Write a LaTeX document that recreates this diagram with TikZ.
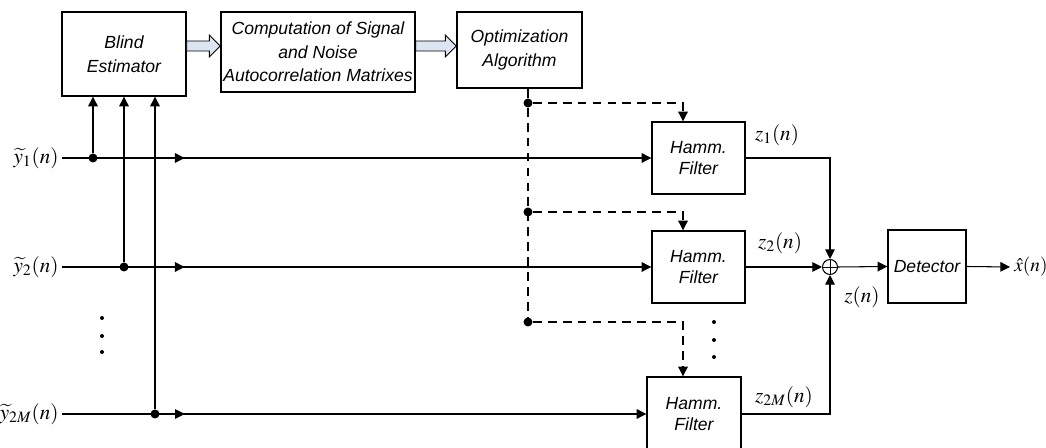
\documentclass[tikz,border=0pt]{standalone}
\usepackage{mathptmx}
\usepackage{fontspec}
\setmainfont{Liberation Serif}
\setsansfont{Liberation Sans}
\usetikzlibrary{arrows.meta,calc,decorations.markings}
\definecolor{arrfill}{HTML}{DCE6F2}
\begin{document}
\begin{tikzpicture}[x=0.02cm,y=-0.02cm,
  box/.style={draw,line width=0.8pt,font=\sffamily\itshape\fontsize{10}{13.5}\selectfont,align=center,inner sep=0pt},
  hbox/.style={box,font=\sffamily\itshape\fontsize{10}{12}\selectfont,minimum width=1.86cm,minimum height=1.44cm},
  conn/.style={line width=0.6pt},
  tip/.style={-{Triangle[length=5.5pt,width=5.5pt]}},
  ctrl/.style={conn,dash pattern=on 5pt off 3.5pt},
  jdot/.style={circle,fill,inner sep=0pt,minimum size=0.18cm},
  sdot/.style={circle,fill,inner sep=0pt,minimum size=0.08cm},
  lbl/.style={font=\fontsize{12}{14}\selectfont,inner sep=0pt},
  dblarrow/.style={draw,line width=0.5pt,fill=arrfill},
  midtip/.style={postaction={decorate},decoration={markings,mark=at position #1 with {\arrow{Triangle[length=5.5pt,width=5.5pt]}}}}
]
\useasboundingbox (0,0) rectangle (1046,448);

% top boxes
\node[box,minimum width=2.48cm,minimum height=1.68cm] (be) at (124,54) {Blind\\Estimator};
\node[box,minimum width=3.88cm,minimum height=1.6cm] (cp) at (318,52) {Computation of Signal\\and Noise\\Autocorrelation Matrixes};
\node[box,minimum width=2.5cm,minimum height=1.52cm] (oa) at (519.5,50) {Optimization\\Algorithm};

% block arrows
\coordinate (a1s) at (be.east |- 0,46);
\coordinate (a1e) at (cp.west |- 0,46);
\coordinate (a2s) at (cp.east |- 0,46);
\coordinate (a2e) at (oa.west |- 0,46);
\foreach \s/\e in {a1s/a1e,a2s/a2e}{
  \draw[dblarrow] ($(\s)+(0,-5)$) -- ($(\e)+(-11,-5)$) -- ($(\e)+(-11,-11)$) -- (\e)
    -- ($(\e)+(-11,11)$) -- ($(\e)+(-11,5)$) -- ($(\s)+(0,5)$) -- cycle;
}

% filters, summer, detector
\node[hbox] (h1) at (698.5,158) {Hamm.\\Filter};
\node[hbox] (h2) at (698.5,267) {Hamm.\\Filter};
\node[hbox,minimum width=1.88cm,minimum height=1.48cm] (h3) at (694,414) {Hamm.\\Filter};
\node[circle,draw,line width=0.6pt,minimum size=0.3cm,inner sep=0pt] (sum) at (830,267) {};
\draw[line width=0.5pt] (sum.north) -- (sum.south) (sum.west) -- (sum.east);
\node[box,minimum width=1.56cm,minimum height=1.46cm] (det) at (927,266.5) {Detector};

% inputs
\coordinate (i1) at (62,158);
\coordinate (i2) at (62,267);
\coordinate (i3) at (62,414);
\node[lbl,anchor=east] (l1) at (59,158) {$\widetilde{y}_1(n)$};
\node[lbl,anchor=east] (l2) at (59,267) {$\widetilde{y}_2(n)$};
\node[lbl,anchor=east] (l3) at (59,414) {$\widetilde{y}_{2M}(n)$};
\draw[conn,tip,midtip=0.208] (i1) -- (h1.west);
\draw[conn,tip,midtip=0.208] (i2) -- (h2.west);
\draw[conn,tip,midtip=0.21] (i3) -- (h3.west);

% junctions to blind estimator
\node[jdot] (j1) at (93,158) {};
\node[jdot] (j2) at (124,267) {};
\node[jdot] (j3) at (155,414) {};
\draw[conn,tip] (j1) -- (j1 |- be.south);
\draw[conn,tip] (j2) -- (j2 |- be.south);
\draw[conn,tip] (j3) -- (j3 |- be.south);

% vertical ellipsis dots
\node[sdot] (v1) at (102,318) {};
\node[sdot] (v2) at (102,336) {};
\node[sdot] (v3) at (102,352) {};
\node[sdot] (w1) at (714,322) {};
\node[sdot] (w2) at (714,340) {};
\node[sdot] (w3) at (714,357) {};

% control lines
\node[jdot] (d1) at (528,103) {};
\node[jdot] (d2) at (528,212) {};
\node[jdot] (d3) at (528,322) {};
\draw[conn] (d1) -- (d1 |- oa.south);
\draw[ctrl] (d1) -- (d3);
\coordinate (k1) at (683,103);
\coordinate (k2) at (683,212);
\coordinate (k3) at (683,322);
\draw[ctrl,tip] (d1) -- (k1) -- (k1 |- h1.north);
\draw[ctrl,tip] (d2) -- (k2) -- (k2 |- h2.north);
\draw[ctrl,tip] (d3) -- (k3) -- (k3 |- h3.north);

% outputs
\draw[conn,tip] (h1.east) -| (sum.north);
\draw[conn,tip] (h2.east) -- (sum.west);
\draw[conn,tip] (h3.east) -| (sum.south);
\draw[conn,tip] (sum.east) -- (det.west);
\coordinate (out) at (1010,267);
\draw[conn,tip] (det.east) -- (out);

% labels
\node[lbl] (zl1) at (777,135) {$z_1(n)$};
\node[lbl] (zl2) at (780,243) {$z_2(n)$};
\node[lbl] (zl3) at (784,397) {$z_{2M}(n)$};
\node[lbl] (zl) at (862,297) {$z(n)$};
\node[lbl,anchor=west,font=\fontsize{11}{14}\selectfont] (xl) at (1014,267) {$\hat{x}(n)$};
\end{tikzpicture}
\end{document}
